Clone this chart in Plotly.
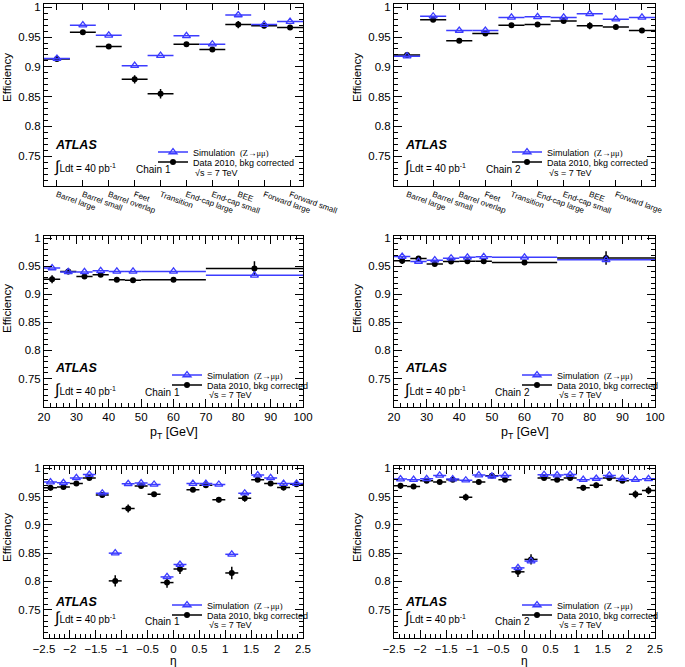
import plotly.graph_objects as go

FONT = "Liberation Sans, Arial, Helvetica, sans-serif"
BLUE = "rgb(60,60,255)"

# ---------------- data ----------------
regions = ["Barrel large", "Barrel small", "Barrel overlap", "Feet", "Transition",
           "End-cap large", "End-cap small", "BEE", "Forward large", "Forward small"]
reg_sim_c1 = [0.914, 0.970, 0.953, 0.902, 0.919, 0.952, 0.938, 0.987, 0.971, 0.976]
reg_dat_c1 = [0.913, 0.958, 0.934, 0.879, 0.855, 0.938, 0.929, 0.971, 0.969, 0.966]
reg_err_c1 = [0.003, 0.003, 0.003, 0.007, 0.008, 0.003, 0.003, 0.006, 0.004, 0.004]
reg_sim_c2 = [0.918, 0.985, 0.961, 0.961, 0.983, 0.984, 0.983, 0.989, 0.980, 0.983]
reg_dat_c2 = [0.920, 0.979, 0.944, 0.956, 0.970, 0.971, 0.977, 0.969, 0.967, 0.961]
reg_err_c2 = [0.003, 0.003, 0.003, 0.004, 0.003, 0.003, 0.003, 0.006, 0.004, 0.003]

pt_edges = [20, 25, 30, 35, 40, 45, 50, 70, 100]
pt_sim_c1 = [0.947, 0.940, 0.940, 0.942, 0.941, 0.941, 0.941, 0.934]
pt_dat_c1 = [0.927, 0.941, 0.932, 0.935, 0.926, 0.925, 0.926, 0.946]
pt_err_c1 = [0.007, 0.005, 0.004, 0.004, 0.003, 0.003, 0.003, 0.013]
pt_sim_c2 = [0.9675, 0.9586, 0.961, 0.9645, 0.966, 0.967, 0.966, 0.9616]
pt_dat_c2 = [0.960, 0.964, 0.954, 0.9586, 0.959, 0.959, 0.957, 0.965]
pt_err_c2 = [0.006, 0.004, 0.004, 0.003, 0.003, 0.003, 0.003, 0.012]

eta_edges = [-2.5, -2.25, -2.0, -1.75, -1.5, -1.25, -1.0, -0.75, -0.5, -0.25, 0.0,
             0.25, 0.5, 0.75, 1.0, 1.25, 1.5, 1.75, 2.0, 2.25, 2.5]
eta_sim_c1 = [0.9757, 0.9745, 0.983, 0.989, 0.956, 0.850, 0.9727, 0.974, 0.9715, 0.808,
              0.830, 0.973, 0.973, 0.9715, 0.848, 0.956, 0.988, 0.983, 0.973, 0.973]
eta_dat_c1 = [0.9656, 0.967, 0.973, 0.983, 0.953, 0.801, 0.929, 0.9686, 0.954, 0.798,
              0.822, 0.962, 0.970, 0.9444, 0.815, 0.947, 0.980, 0.973, 0.966, 0.972]
eta_err_c1 = [0.005, 0.004, 0.004, 0.004, 0.005, 0.010, 0.007, 0.004, 0.004, 0.009,
              0.009, 0.004, 0.004, 0.005, 0.011, 0.006, 0.004, 0.004, 0.005, 0.005]
eta_sim_c2 = [0.981, 0.980, 0.9815, 0.9875, 0.981, 0.979, 0.988, 0.986, 0.9875, 0.824,
              0.836, 0.9887, 0.988, 0.989, 0.980, 0.982, 0.9875, 0.982, 0.980, 0.9815]
eta_dat_c2 = [0.969, 0.968, 0.978, 0.976, 0.980, 0.949, 0.976, 0.987, 0.980, 0.817,
              0.839, 0.983, 0.980, 0.983, 0.9655, 0.970, 0.983, 0.978, 0.954, 0.961]
eta_err_c2 = [0.005, 0.004, 0.004, 0.004, 0.003, 0.006, 0.004, 0.003, 0.004, 0.009,
              0.009, 0.004, 0.004, 0.004, 0.005, 0.005, 0.004, 0.004, 0.007, 0.007]

y_tickvals = [0.75, 0.8, 0.85, 0.9, 0.95, 1.0]
y_ticktext = ["0.75", "0.8", "0.85", "0.9", "0.95", "1"]

# ---------------- layout geometry (pixels) ----------------
W, H = 685, 667
cols = {"L": (44, 303), "R": (394, 655)}
rows = {1: (4.3, 186), 2: (235.5, 406.5), 3: (465.5, 638)}


def px(x):
    return x / W


def py(y):
    return 1 - y / H


def centers_half(edges):
    c = [(edges[i] + edges[i + 1]) / 2 for i in range(len(edges) - 1)]
    h = [(edges[i + 1] - edges[i]) / 2 for i in range(len(edges) - 1)]
    return c, h


reg_x = list(range(len(regions)))
reg_h = [0.5] * len(regions)
pt_c, pt_h = centers_half(pt_edges)
eta_c, eta_h = centers_half(eta_edges)

panels = [
    dict(n=1, col="L", row=1, kind="reg", chain=1, x=reg_x, h=reg_h, sim=reg_sim_c1, dat=reg_dat_c1, err=reg_err_c1),
    dict(n=2, col="R", row=1, kind="reg", chain=2, x=reg_x, h=reg_h, sim=reg_sim_c2, dat=reg_dat_c2, err=reg_err_c2),
    dict(n=3, col="L", row=2, kind="pt", chain=1, x=pt_c, h=pt_h, sim=pt_sim_c1, dat=pt_dat_c1, err=pt_err_c1),
    dict(n=4, col="R", row=2, kind="pt", chain=2, x=pt_c, h=pt_h, sim=pt_sim_c2, dat=pt_dat_c2, err=pt_err_c2),
    dict(n=5, col="L", row=3, kind="eta", chain=1, x=eta_c, h=eta_h, sim=eta_sim_c1, dat=eta_dat_c1, err=eta_err_c1),
    dict(n=6, col="R", row=3, kind="eta", chain=2, x=eta_c, h=eta_h, sim=eta_sim_c2, dat=eta_dat_c2, err=eta_err_c2),
]

# text offsets per row: (ATLAS y, Ldt y, Chain y, legend rows y)
row_text = {
    1: dict(atlas=145, ldt=167, chain=169, leg=(152, 162, 173)),
    2: dict(atlas=368, ldt=390, chain=392, leg=(375, 385, 395)),
    3: dict(atlas=602, ldt=618, chain=621, leg=(605, 615, 625)),
}
ytitle_y = {1: 78, 2: 309, 3: 538}
ytitle_x = {"L": 7, "R": 357}

fig = go.Figure()
layout = dict(template="none", width=W, height=H, margin=dict(l=0, r=0, t=0, b=0, pad=0),
              autosize=False, paper_bgcolor="white", plot_bgcolor="white",
              font=dict(family=FONT, color="black"), showlegend=True)
annotations = []

tick_font = dict(family=FONT, size=11.5, color="black")

for p in panels:
    n = p["n"]
    xa = "xaxis" if n == 1 else f"xaxis{n}"
    ya = "yaxis" if n == 1 else f"yaxis{n}"
    xr = "x" if n == 1 else f"x{n}"
    yr = "y" if n == 1 else f"y{n}"
    c0, c1 = cols[p["col"]]
    r0, r1 = rows[p["row"]]

    common = dict(showline=True, linecolor="black", linewidth=1, mirror="allticks",
                  ticks="inside", tickcolor="black", tickwidth=1, showgrid=False,
                  zeroline=False, tickfont=tick_font, automargin=False)
    yax = dict(common, domain=[py(r1), py(r0)], anchor=xr, range=[0.7, 1.005],
               tickmode="array", tickvals=y_tickvals, ticktext=y_ticktext, ticklen=8,
               minor=dict(tickmode="linear", tick0=0.7, dtick=0.01, ticks="inside",
                          ticklen=4, tickcolor="black", showgrid=False))
    if p["kind"] == "reg":
        xax = dict(common, domain=[px(c0), px(c1)], anchor=yr, range=[-0.5, 9.5],
                   tickmode="array", tickvals=reg_x, ticktext=regions, tickangle=20,
                   ticklen=6, tickfont=dict(family=FONT, size=8, color="black"))
    elif p["kind"] == "pt":
        xax = dict(common, domain=[px(c0), px(c1)], anchor=yr, range=[20, 100],
                   tickmode="linear", tick0=20, dtick=10, ticklen=8,
                   minor=dict(tickmode="linear", tick0=20, dtick=2, ticks="inside",
                              ticklen=4, tickcolor="black", showgrid=False))
    else:
        xax = dict(common, domain=[px(c0), px(c1)], anchor=yr, range=[-2.5, 2.5],
                   tickmode="linear", tick0=-2.5, dtick=0.5, ticklen=8,
                   minor=dict(tickmode="linear", tick0=-2.5, dtick=0.1, ticks="inside",
                              ticklen=4, tickcolor="black", showgrid=False))
    layout[xa] = xax
    layout[ya] = yax

    # data (black) points with bin-width bars
    fig.add_trace(go.Scatter(
        x=p["x"], y=p["dat"], mode="markers", xaxis=xr, yaxis=yr, showlegend=False,
        marker=dict(symbol="circle", size=6, color="black"),
        error_x=dict(type="data", array=p["h"], width=0, thickness=1.5, color="black"),
        error_y=dict(type="data", array=p["err"], width=0, thickness=1.5, color="black"),
        hoverinfo="skip"))
    # simulation (blue) points
    fig.add_trace(go.Scatter(
        x=p["x"], y=p["sim"], mode="markers", xaxis=xr, yaxis=yr, showlegend=False,
        marker=dict(symbol="triangle-up-open", size=7, color=BLUE, line=dict(width=1.3, color=BLUE)),
        error_x=dict(type="data", array=p["h"], width=0, thickness=1.5, color=BLUE),
        hoverinfo="skip"))

    rt = row_text[p["row"]]
    leg_text_x = c0 + (149 if (p["row"] == 1 and p["col"] == "L") else 153 if p["row"] == 1 else 163)
    lg_sim = "legend" if n == 1 else f"legend{2 * n - 1}"
    lg_dat = f"legend{2 * n}"
    # legend entries
    fig.add_trace(go.Scatter(
        x=[None], y=[None], mode="lines+markers", xaxis=xr, yaxis=yr, legend=lg_sim,
        name="Simulation  <span style='font-family:Liberation Serif;font-size:8.5px'>(Z→μμ)</span>",
        line=dict(color=BLUE, width=1.5),
        marker=dict(symbol="triangle-up-open", size=7, color=BLUE, line=dict(width=1.3, color=BLUE))))
    fig.add_trace(go.Scatter(
        x=[None], y=[None], mode="lines+markers", xaxis=xr, yaxis=yr, legend=lg_dat,
        name="Data 2010, bkg corrected",
        line=dict(color="black", width=1.5),
        marker=dict(symbol="circle", size=6, color="black")))
    for lg, yy in ((lg_sim, rt["leg"][0]), (lg_dat, rt["leg"][1])):
        layout[lg] = dict(x=px(leg_text_x - 40), y=py(yy), xanchor="left", yanchor="middle",
                          bgcolor="rgba(0,0,0,0)", borderwidth=0, itemwidth=30,
                          font=dict(family=FONT, size=9, color="black"))
    annotations.append(dict(x=px(leg_text_x), y=py(rt["leg"][2]), xref="paper", yref="paper",
                            text="√s = 7 TeV", showarrow=False, xanchor="left", yanchor="middle",
                            font=dict(family=FONT, size=9)))
    # ATLAS label etc
    annotations.append(dict(x=px(c0 + 9), y=py(rt["atlas"]), xref="paper", yref="paper",
                            text="<b><i>ATLAS</i></b>", showarrow=False, xanchor="left",
                            yanchor="middle", font=dict(family=FONT, size=12.5)))
    annotations.append(dict(x=px(c0 + 8), y=py(rt["ldt"]), xref="paper", yref="paper",
                            text="<span style='font-size:16px'>∫</span>Ldt = 40 pb<sup>-1</sup>",
                            showarrow=False, xanchor="left", yanchor="middle",
                            font=dict(family=FONT, size=10)))
    chain_dx = 90 if p["row"] == 1 else 99
    annotations.append(dict(x=px(c0 + chain_dx), y=py(rt["chain"]), xref="paper", yref="paper",
                            text=f"Chain {p['chain']}", showarrow=False, xanchor="left",
                            yanchor="middle", font=dict(family=FONT, size=10)))
    # y title
    annotations.append(dict(x=px(ytitle_x[p["col"]]), y=py(ytitle_y[p["row"]]), xref="paper",
                            yref="paper", text="Efficiency", textangle=-90, showarrow=False,
                            xanchor="center", yanchor="middle", font=dict(family=FONT, size=11.5)))
    # x title
    if p["kind"] == "pt":
        annotations.append(dict(x=px((c0 + c1) / 2), y=py(433), xref="paper", yref="paper",
                                text="p<sub>T</sub> [GeV]", showarrow=False, xanchor="center",
                                yanchor="middle", font=dict(family=FONT, size=12.5)))
    elif p["kind"] == "eta":
        annotations.append(dict(x=px((c0 + c1) / 2), y=py(660.5), xref="paper", yref="paper",
                                text="η", showarrow=False, xanchor="center",
                                yanchor="middle", font=dict(family=FONT, size=12)))

layout["annotations"] = annotations
fig.update_layout(**layout)
fig.write_html("out.html", config={"displayModeBar": False})

# remove the default page margin so the figure sits at the window's top-left corner
with open("out.html", encoding="utf-8") as f:
    html = f.read()
html = html.replace("<body>", "<body style=\"margin:0;padding:0;overflow:hidden\">", 1)
with open("out.html", "w", encoding="utf-8") as f:
    f.write(html)
